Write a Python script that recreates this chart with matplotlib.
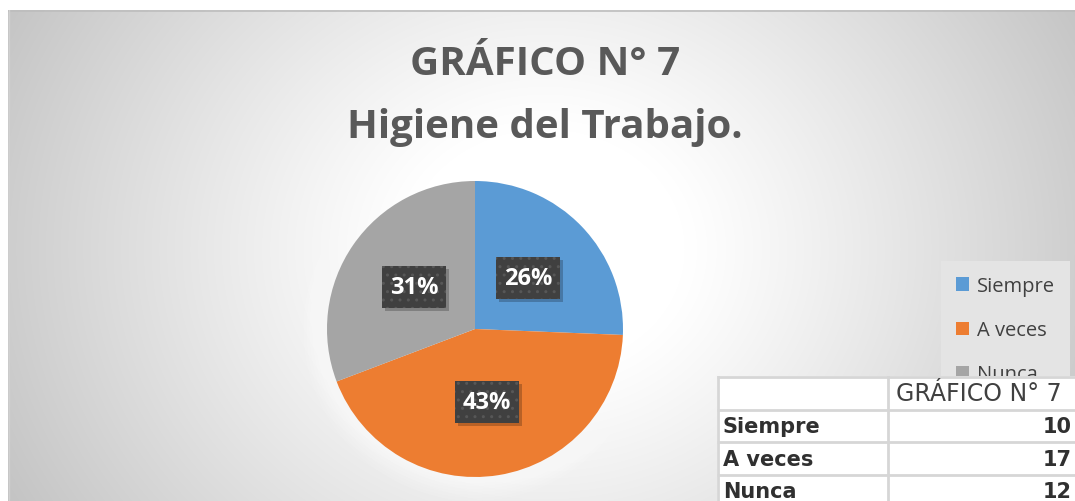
import numpy as np
import matplotlib
matplotlib.use("Agg")
import matplotlib.pyplot as plt
from matplotlib.patches import Patch, Rectangle

# ---- data ----
categories = ["Siempre", "A veces", "Nunca"]
values = [10, 17, 12]
pct_labels = ["26%", "43%", "31%"]
colors = ["#5b9bd5", "#ed7d31", "#a5a5a5"]
title_lines = ["GRÁFICO N° 7", "Higiene del Trabajo."]
table_header = "GRÁFICO N° 7"

W, H = 1075, 502
fig = plt.figure(figsize=(W / 100, H / 100), dpi=100)
fig.patch.set_facecolor("white")

def fx(px):
    return px / W

def fy(py):
    return 1 - py / H

# ---- background (radial gradient) ----
bx0, by0 = 8, 11
bg = fig.add_axes([fx(bx0), 0, fx(W - bx0), (H - by0) / H])
xs = np.arange(bx0, W)
ys = np.arange(by0, H)
X, Y = np.meshgrid(xs, ys)
cx, cy = 545, 250
r = np.sqrt(((X - cx) / 560.0) ** 2 + ((Y - cy) / 480.0) ** 2)
t = np.clip((r - 0.25) / 0.85, 0, 1)
b = 1 - 0.235 * t ** 1.1
img = np.dstack([b, b, b])
bg.imshow(img, extent=(bx0, W, H, by0), aspect="auto", interpolation="bilinear")
bg.set_xlim(bx0, W)
bg.set_ylim(H, by0)
bg.set_xticks([])
bg.set_yticks([])
for s in bg.spines.values():
    s.set_visible(False)
bg.plot([bx0, W], [by0 + 0.5, by0 + 0.5], color="#bdbdbd", lw=1.2)
bg.plot([bx0 + 0.5, bx0 + 0.5], [by0, H], color="#d0d0d0", lw=1.0)

# ---- title ----
fig.text(fx(545), fy(75), title_lines[0], ha="center", va="baseline",
         fontsize=29, fontweight="bold", color="#595959", family="Open Sans")
fig.text(fx(545), fy(138), title_lines[1], ha="center", va="baseline",
         fontsize=29, fontweight="bold", color="#595959", family="Open Sans")

# ---- pie ----
pcx, pcy, R = 475, 330, 148
pax = fig.add_axes([fx(pcx - R), fy(pcy + R), 2 * R / W, 2 * R / H])
pax.set_facecolor("none")
for k in range(8):
    pax.add_patch(plt.Circle((0, 0), 1.0 + 0.02 * (k + 1), color="white",
                             alpha=0.10, lw=0, zorder=0, clip_on=False))
wedges, _ = pax.pie(values, colors=colors, startangle=90, counterclock=False,
                    radius=1.0, wedgeprops=dict(linewidth=0))
for w in wedges:
    w.set_zorder(2)
    w.set_clip_on(False)

bw, bh = 64 / R, 42 / R
for w, lab in zip(wedges, pct_labels):
    ang = np.deg2rad((w.theta1 + w.theta2) / 2)
    x, y = 0.5 * np.cos(ang), 0.5 * np.sin(ang)
    shadow = Rectangle((x - bw / 2 + 3 / R, y - bh / 2 - 3 / R), bw, bh,
                       facecolor="black", alpha=0.22, lw=0, zorder=4,
                       clip_on=False)
    pax.add_patch(shadow)
    box = Rectangle((x - bw / 2, y - bh / 2), bw, bh, facecolor="#404040",
                    edgecolor="#575757", lw=0, hatch="..", zorder=5,
                    clip_on=False)
    pax.add_patch(box)
    pax.text(x, y, lab, ha="center", va="center", color="white",
             fontsize=17, fontweight="bold", family="Open Sans", zorder=6)
pax.set_xlim(-1, 1)
pax.set_ylim(-1, 1)
pax.set_aspect("auto")
pax.axis("off")

# ---- legend ----
handles = [Patch(facecolor=c, edgecolor="none") for c in colors]
leg = fig.legend(handles, categories, loc="upper left",
                 bbox_to_anchor=(fx(941), fy(262)),
                 frameon=True, fancybox=False, facecolor="#e4e4e4",
                 edgecolor="none", framealpha=1.0,
                 prop=dict(family="Open Sans", size=14.5),
                 labelcolor="#404040", handlelength=0.62, handleheight=0.62,
                 handletextpad=0.4, labelspacing=1.2, borderpad=0.75,
                 borderaxespad=0)
leg.set_zorder(5)

# ---- data table ----
tx0, ty0 = 717, 377
tab = fig.add_axes([fx(tx0), 0, fx(W - tx0), (H - ty0) / H])
tab.set_zorder(10)
tab.set_facecolor("white")
tab.set_xlim(tx0, W)
tab.set_ylim(H, ty0)
tab.set_xticks([])
tab.set_yticks([])
for s in tab.spines.values():
    s.set_visible(False)
row_h = 32.7
col_x = 888
line_c = "#d6d6d6"
for i in range(len(categories) + 1):
    yy = ty0 + 1 + i * row_h
    tab.plot([tx0, W], [yy, yy], color=line_c, lw=2, solid_capstyle="butt")
tab.plot([tx0 + 1, tx0 + 1], [ty0, H], color=line_c, lw=2)
tab.plot([col_x, col_x], [ty0, H], color=line_c, lw=2)
tab.text(1062, ty0 + row_h / 2 + 1, table_header, ha="right", va="center",
         fontsize=17, color="#404040", family="DejaVu Sans")
for i, (c, v) in enumerate(zip(categories, values)):
    yc = ty0 + (i + 1.5) * row_h + 1
    tab.text(723, yc, c, ha="left", va="center", fontsize=15,
             color="#303030", family="DejaVu Sans", fontweight="bold")
    tab.text(1072, yc, str(v), ha="right", va="center", fontsize=15,
             color="#303030", family="DejaVu Sans", fontweight="bold")

fig.savefig("out.png", dpi=100)
